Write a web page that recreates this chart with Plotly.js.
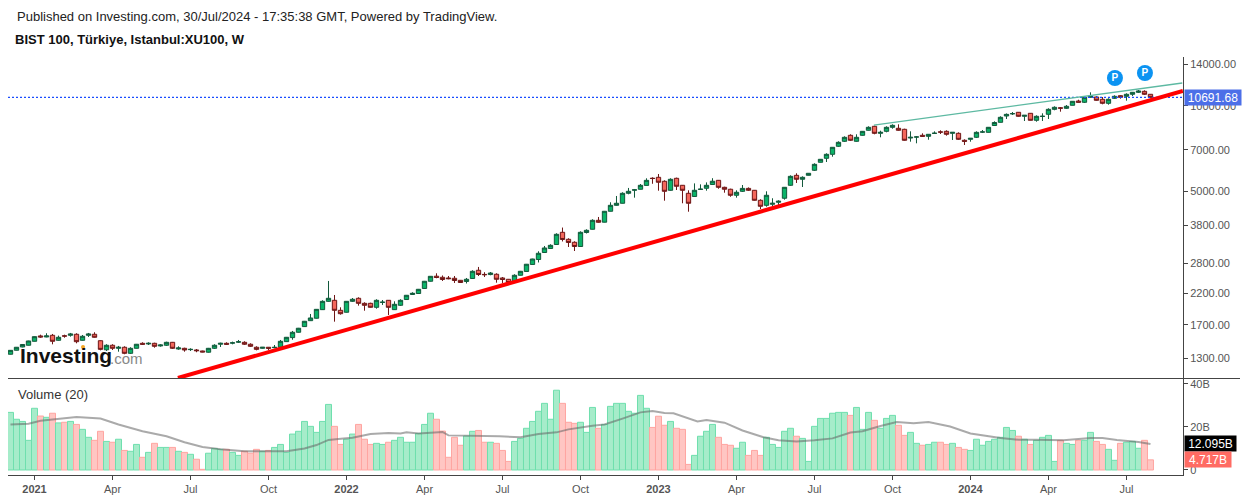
<!DOCTYPE html>
<html>
<head>
<meta charset="utf-8">
<script src="https://cdn.plot.ly/plotly-3.0.1.min.js"></script>
<style>
html, body { margin: 0; padding: 0; background: #fff; }
#chart { width: 1247px; height: 499px; }
</style>
</head>
<body>
<div id="chart"></div>
<script>
// weekly candles
var opens = [1342,1386,1423,1443,1490,1556,1543,1564,1502,1557,1564,1577,1502,1564,1577,1497,1391,1443,1408,1420,
1352,1408,1466,1458,1466,1435,1443,1478,1400,1408,1393,1389,1378,1364,1408,1455,1466,1468,1480,1478,
1455,1420,1408,1420,1416,1420,1486,1535,1603,1678,1760,1795,1924,2058,2075,1914,1884,2058,2109,2025,
2025,1961,2040,2075,1924,1993,2088,2175,2192,2283,2420,2521,2499,2485,2479,2439,2416,2475,2645,2558,
2555,2561,2485,2459,2416,2540,2619,2772,2885,3053,3154,3257,3594,3397,3316,3205,3589,3683,3960,3900,
4260,4470,4544,4926,5052,5088,5250,5565,5605,5428,5047,5560,5255,4926,4801,5080,5130,5290,5470,5170,
5090,4848,5005,5125,5047,4655,4470,4507,4581,4732,5255,5695,5517,5697,5932,6328,6535,6750,7200,7497,
7870,7497,7870,8195,8463,7997,8127,8395,8327,8260,7699,7756,7870,7806,7990,8088,8127,7997,7997,7559,
7619,7743,8075,8061,8518,8740,9197,9362,9477,9175,9400,8883,9165,9325,9708,9823,9788,10029,10383,10274,
10699,10725,10527,10191,10612,10838,10785,10961,11138,11228,10961];
var highs = [1388,1423,1456,1497,1550,1572,1590,1581,1560,1572,1594,1590,1568,1594,1603,1502,1455,1455,1435,1431,
1420,1458,1478,1478,1473,1454,1485,1482,1431,1415,1408,1400,1381,1412,1455,1473,1478,1486,1506,1490,
1466,1431,1423,1423,1446,1506,1543,1620,1660,1756,1858,1934,2075,2426,2166,1961,2063,2114,2126,2042,
2035,2092,2080,2080,2058,2092,2166,2214,2274,2426,2525,2581,2536,2525,2525,2445,2485,2645,2717,2604,
2608,2581,2505,2465,2561,2630,2783,2903,3084,3218,3263,3566,3735,3425,3343,3623,3682,3993,4068,4270,
4581,4820,4966,5143,5100,5310,5560,5605,5757,5470,5560,5590,5267,5047,5336,5295,5380,5565,5485,5195,
5112,5047,5267,5165,5059,4693,5006,4732,4655,5180,5695,5790,5650,5800,6277,6490,6804,7160,7497,7806,
7933,7933,8147,8463,8505,8167,8463,8600,8600,8300,8127,7825,7997,7952,8127,8194,8194,8081,8061,7619,
7699,8127,8214,8415,8811,9175,9390,9500,9500,9272,9420,9250,9400,9788,9948,9891,10053,10375,10492,10785,
11138,10785,10725,10612,10873,10873,11049,11165,11348,11320,10987];
var lows = [1340,1384,1420,1441,1488,1534,1539,1454,1498,1534,1547,1466,1498,1543,1534,1385,1378,1389,1370,1342,
1345,1405,1446,1446,1415,1427,1435,1400,1392,1370,1378,1364,1364,1360,1400,1423,1446,1454,1470,1446,
1423,1385,1404,1389,1408,1417,1482,1509,1600,1674,1756,1790,1920,2052,1746,1848,1880,2047,1987,1908,
1955,1939,1998,1843,1919,1982,2084,2166,2188,2279,2415,2479,2426,2459,2387,2392,2377,2471,2525,2505,
2540,2392,2387,2392,2410,2535,2615,2768,2817,3047,3148,3250,3338,3192,3090,3198,3560,3677,3885,3895,
4255,4456,4538,4886,4755,5082,5245,5320,5030,4640,5030,5059,4544,4245,4785,5059,5030,5275,5110,4950,
4790,4755,4978,5018,4640,4339,4420,4435,4481,4678,5230,5354,5183,5690,5898,6320,6343,6620,7160,7455,
7515,7473,7850,8180,7933,7743,8061,8300,8167,7533,7473,7377,7762,7594,7952,7952,7846,7577,7577,7277,
7473,7699,8016,8050,8505,8730,8977,9272,9145,8833,8870,8783,8833,8977,9632,9523,9732,10020,10260,10216,
10665,10408,10110,10077,10552,10578,10408,10811,11075,10899,10665];
var closes = [1385,1420,1452,1494,1547,1543,1556,1490,1539,1554,1581,1485,1552,1581,1539,1396,1443,1408,1420,1352,
1408,1455,1455,1466,1431,1446,1478,1408,1412,1389,1396,1381,1367,1408,1443,1466,1455,1472,1484,1455,
1431,1396,1420,1408,1419,1490,1539,1603,1656,1752,1799,1929,2058,2109,1914,1862,2058,2092,2025,1993,
1961,2075,2044,1961,2009,2075,2161,2196,2268,2420,2519,2495,2455,2471,2435,2396,2459,2623,2556,2552,
2587,2459,2455,2396,2540,2623,2777,2897,3034,3167,3236,3537,3392,3311,3205,3594,3653,3960,3897,4260,
4470,4544,4926,5006,5066,5255,5469,5550,5385,5006,5516,5213,5047,4544,5047,5094,5255,5430,5170,5090,
4848,4966,5125,5047,4655,4435,4848,4544,4618,5170,5650,5517,5605,5790,6225,6482,6750,7142,7437,7743,
7559,7743,8127,8395,7997,8061,8395,8530,8195,7559,7743,7768,7806,7933,8004,8075,7933,8061,7619,7497,
7680,8061,8088,8395,8726,9101,9320,9376,9175,9250,8883,9175,9178,9708,9867,9800,9948,10358,10274,10699,
10811,10442,10191,10527,10785,10699,10961,11138,11256,10961,10691.68];

// volume in billions
var volumes = [26.8,23.6,22.6,13.8,28.7,25.1,24.5,26.4,21.9,22.2,22.6,21.2,18.9,15.2,13.8,18,13.3,12.9,14.3,9.1,
8.7,11.9,5.9,8.2,12.4,10.5,10.5,10.5,8.7,8.2,7.3,5,0.3,7.8,10,9.6,9.6,8.2,6.8,8.7,
7.8,9.6,8.7,9.1,10.5,11.9,8.2,16.7,18,22.6,20.3,17.5,22.6,30.5,20.3,11.9,14.3,16.7,21.2,14.3,
11.9,12.4,11.9,12.9,13.8,15.2,12.9,12.9,17,21.2,26.4,23.6,18.1,5.9,15.2,11.5,15.8,18,18.4,12.9,
12.9,12.4,9.1,4,13.3,14.7,19.4,22.6,27.3,31,23.6,37.1,31,22.2,21.7,22.2,17.5,29.1,19.4,21.2,
29.6,31,31,27.3,26.4,34.7,28.7,19.8,25,20.8,22.6,19.4,18.9,2.6,6.8,15.7,18,21.2,15.2,11.9,
11.5,10.1,12.9,6.8,9.1,6.8,15.2,11.9,10.5,18,19.4,15.7,14.7,4,20.3,24,24,26.4,26.8,26.8,
25.4,29.1,18.9,26.8,23.1,19.4,24,25.4,20.8,16.1,17.5,12.4,11.5,11.9,12.9,12.9,11.9,12.4,10.5,9.6,
9.1,14.3,11.5,13.3,14.3,15.2,19.8,18.4,15.7,14.3,11.9,13.8,15.2,16.1,4,13.8,12.4,11.9,13.8,13.8,
17.5,13.3,11.9,9.6,4.5,12.4,12.9,13.3,10.1,13.8,4.717];

// Volume (20) average line
var maIndex = [0,3,5,8,11,15,18,22,26,29,32,35,39,46,49,51,53,55.5,57,60,63,65,66,68,71,72,73,77,81.5,85,88,91,93,97,99,102,105,107,109,110.5,114.5,116,119,122,125.5,128,131,134,137,140,142,145,147.7,150.5,153,156.6,160,165,168,171,175.5,180,182,184.4,188,190];
var maValues = [21.2,21.5,22.9,23.9,24.7,23.9,21.2,18,15.7,12.9,10.7,9.6,8.7,8.7,10,11.6,14,14.6,15,16.7,17.2,17,17.5,17,17.7,17.7,16.1,16,15.7,15.2,16.7,17.5,18.9,20.6,21.2,23.9,26.8,27.4,26.5,26.4,22.6,23.3,22,18.4,15.2,13.8,13.3,13.8,14.7,17.4,18,20.5,22.3,21.7,22.3,20.2,17,14.9,14.1,14.1,13.8,14.9,14.9,14,13,12.095];

// drawn trendlines and P markers
var redLineIndex = [27.9,195.4];
var redLinePrice = [1108,11256];
var tealLineIndex = [143.9,195.3];
var tealLinePrice = [8551,12008];
var pinIndex = [184.08,189.08];
var pinPrice = [12503,13018];

var lastPrice = 10691.68;
var lastVolume = 12.095;
var lastBarVolume = 4.717;

var priceTicks = [1300,1700,2200,2800,3800,5000,7000,10000,14000];
var volumeTicks = [0,20,40];
var volumeTickText = ['0','20B','40B'];
var timeTicks = [4,17,30,43,56,69,82,95,108,121,134,147,160,173,186];
var timeTickText = ['<b>2021</b>','Apr','Jul','Oct','<b>2022</b>','Apr','Jul','Oct','<b>2023</b>','Apr','Jul','Oct','<b>2024</b>','Apr','Jul'];

var weeks = closes.map(function (_, i) { return i; });
var barFill = closes.map(function (c, i) { return c >= opens[i] ? '#a6ecca' : '#ffc6c3'; });
var barEdge = closes.map(function (c, i) { return c >= opens[i] ? '#6fdfae' : '#ffa5a1'; });

// page pixels to paper fractions
function px(x) { return (x - 8) / 1175; }
function py(y) { return (475 - y) / 418; }

var fontName = '"Liberation Sans", Arial, sans-serif';

function note(x, y, text, size, color) {
  return {
    xref: 'paper', yref: 'paper', x: px(x), y: py(y), text: text,
    xanchor: 'left', yanchor: 'middle', showarrow: false,
    font: { family: fontName, size: size, color: color }
  };
}

function priceLabel(yref, y, text, bg, w) {
  return {
    xref: 'paper', yref: yref, x: 1, y: y, text: text,
    xanchor: 'left', yanchor: 'middle', showarrow: false, xshift: 1,
    bgcolor: bg, width: w, height: 13, borderpad: 1, align: 'center',
    font: { family: fontName, size: 12, color: '#fff' }
  };
}

var traces = [
  {
    type: 'candlestick', x: weeks, open: opens, high: highs, low: lows, close: closes,
    xaxis: 'x', yaxis: 'y', whiskerwidth: 0,
    increasing: { line: { color: '#12593b', width: 1 }, fillcolor: '#0ab368' },
    decreasing: { line: { color: '#6e1616', width: 1 }, fillcolor: '#f4675c' },
    hoverinfo: 'skip'
  },
  {
    type: 'scatter', mode: 'lines', x: [-0.417, 195.42], y: [lastPrice, lastPrice],
    xaxis: 'x', yaxis: 'y', line: { color: '#1a4dff', width: 1.2, dash: '2px,2px' }
  },
  {
    type: 'scatter', mode: 'lines', x: redLineIndex, y: redLinePrice,
    xaxis: 'x', yaxis: 'y', line: { color: '#ff0000', width: 4 }
  },
  {
    type: 'scatter', mode: 'lines', x: tealLineIndex, y: tealLinePrice,
    xaxis: 'x', yaxis: 'y', line: { color: '#5db9a2', width: 1.3 }
  },
  {
    type: 'scatter', mode: 'markers+text', x: pinIndex, y: pinPrice, text: ['P', 'P'],
    textposition: 'middle center', textfont: { family: fontName, size: 10, color: '#fff', weight: 700 },
    xaxis: 'x', yaxis: 'y', marker: { size: 16, color: '#0b93f2' }
  },
  {
    type: 'bar', x: weeks, y: volumes, xaxis: 'x', yaxis: 'y2',
    marker: { color: barFill, line: { color: barEdge, width: 1 } }
  },
  {
    type: 'scatter', mode: 'lines', x: maIndex, y: maValues, xaxis: 'x', yaxis: 'y2',
    line: { color: 'rgba(100,100,100,0.55)', width: 2 }
  }
];

var axisFont = { family: fontName, size: 11, color: '#555' };

var layout = {
  width: 1247, height: 499,
  margin: { l: 8, r: 64, t: 57, b: 24, pad: 0 },
  paper_bgcolor: '#fff', plot_bgcolor: '#fff',
  showlegend: false, bargap: 0, boxgap: 0.2, boxgroupgap: 0.1,
  xaxis: {
    anchor: 'y2', range: [-0.417, 195.42], rangeslider: { visible: false },
    tickmode: 'array', tickvals: timeTicks, ticktext: timeTickText,
    ticks: 'outside', ticklen: 4, tickcolor: '#444', tickfont: axisFont,
    showgrid: false, zeroline: false, showline: true, linecolor: '#444', linewidth: 1
  },
  yaxis: {
    type: 'log', side: 'right', anchor: 'x', domain: [0.23206, 1], range: [3.0444, 4.1707],
    tickmode: 'array', tickvals: priceTicks, ticktext: priceTicks.map(function (v) { return v.toFixed(2); }),
    ticks: 'outside', ticklen: 4, tickcolor: '#444', tickfont: axisFont,
    showgrid: false, zeroline: false, showline: true, linecolor: '#444', linewidth: 1
  },
  yaxis2: {
    side: 'right', anchor: 'x', domain: [0, 0.23206], range: [-2.326, 42.79],
    tickmode: 'array', tickvals: volumeTicks, ticktext: volumeTickText,
    ticks: 'outside', ticklen: 4, tickcolor: '#444', tickfont: axisFont,
    showgrid: false, zeroline: false, showline: true, linecolor: '#444', linewidth: 1
  },
  shapes: [
    { type: 'line', xref: 'paper', yref: 'paper', x0: 0, x1: px(1240), y0: py(378.5), y1: py(378.5), line: { color: '#444', width: 1 } },
    { type: 'circle', xref: 'paper', yref: 'paper', x0: px(81), x1: px(85), y0: py(345), y1: py(349), fillcolor: '#f5a623', line: { width: 0 } }
  ],
  annotations: [
    note(15, 17, 'Published on Investing.com, 30/Jul/2024 - 17:35:38 GMT, Powered by TradingView.', 13, '#222'),
    note(13, 40, '<b>BIST 100, Türkiye, Istanbul:XU100, W</b>', 13, '#111'),
    note(16, 394, 'Volume (20)', 13, '#333'),
    note(18, 355, '<b>Investing</b>', 21, '#111'),
    note(108, 358, '.com', 15, '#888'),
    priceLabel('y', Math.log10(lastPrice), lastPrice.toFixed(2), '#4c6fe8', 54),
    priceLabel('y2', lastVolume, lastVolume.toFixed(3) + 'B', '#000', 49),
    priceLabel('y2', lastBarVolume, lastBarVolume.toFixed(3) + 'B', '#ff6b63', 44)
  ]
};

Plotly.newPlot('chart', traces, layout, { displayModeBar: false, staticPlot: true });
</script>
</body>
</html>
